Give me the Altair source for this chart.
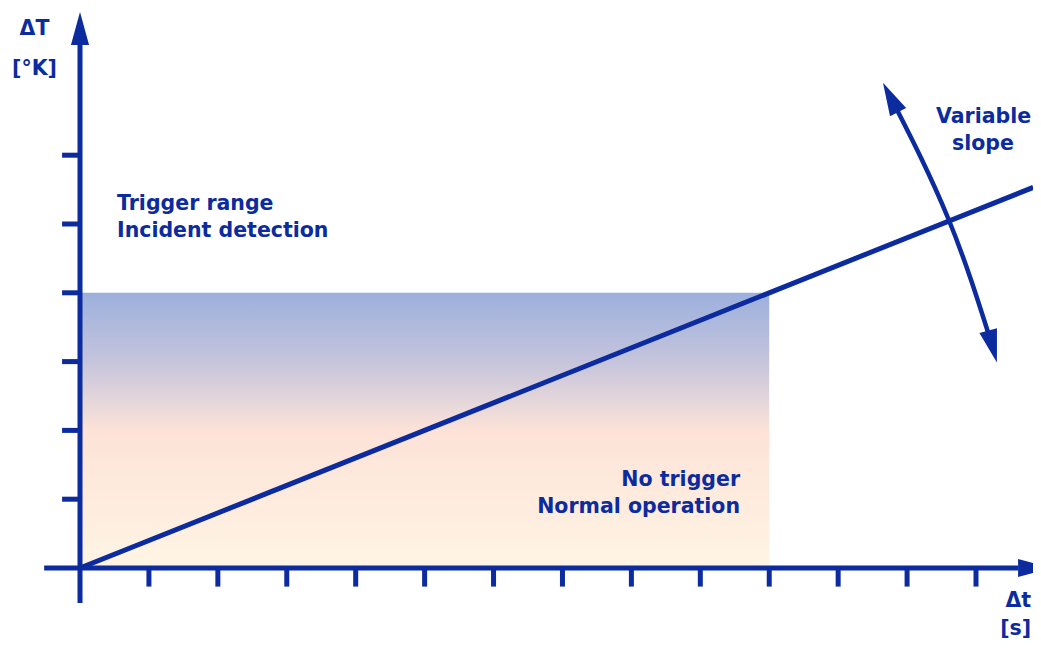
import altair as alt
import pandas as pd

BLUE = "#0b2b9e"
FONT = "DejaVu Sans"

# ---- data (in diagram units: one tick step = 1) ----
x_ticks = list(range(1, 14))
y_ticks = list(range(1, 7))

# axis extents
x_axis_start, x_axis_end = -0.52, 13.61
y_axis_start, y_axis_end = -0.51, 7.6
x_tick_len = -0.27
y_tick_len = -0.26

# shaded region (no-trigger zone)
zone_x = [0, 10]
zone_y = [0, 4]

# threshold line
slope_x = [0, 13.83]
slope_y = [0, 5.532]

# variable-slope curved arrow shaft
curve_x = [11.796, 12.203, 12.594, 12.928, 13.233]
curve_y = [6.773, 5.959, 5.087, 4.186, 3.241]

# arrowheads: x, y, angle
head_x = [0, 13.85, 11.76, 13.24]
head_y = [7.84, 0, 6.84, 3.22]
head_angle = [0, 90, 332.7, 164.7]

# labels
label_text = ["ΔT", "[°K]", "Δt", "[s]",
              "Trigger range", "Incident detection",
              "No trigger", "Normal operation",
              "Variable", "slope"]
label_x = [-0.66, -0.66, 13.80, 13.80, 0.537, 0.537, 9.576, 9.576, 13.80, 13.10]
label_y = [7.747, 7.166, -0.567, -0.974, 5.203, 4.811, 1.192, 0.799, 6.468, 6.076]
label_align = ["center", "center", "right", "right", "left", "left",
               "right", "right", "right", "center"]

# ---- scales ----
xs = alt.Scale(domain=[-1.0447, 13.827], nice=False, zero=False)
ys = alt.Scale(domain=[-1.0756, 8.1395], nice=False, zero=False)
X = lambda f: alt.X(f, type="quantitative", scale=xs, axis=None)
Y = lambda f: alt.Y(f, type="quantitative", scale=ys, axis=None)

# segments: axes + ticks
seg = []
seg.append(dict(x=x_axis_start, x2=x_axis_end, y=0, y2=0))
seg.append(dict(x=0, x2=0, y=y_axis_start, y2=y_axis_end))
for t in x_ticks:
    seg.append(dict(x=t, x2=t, y=0, y2=x_tick_len))
for t in y_ticks:
    seg.append(dict(x=0, x2=y_tick_len, y=t, y2=t))
seg_df = pd.DataFrame(seg)

zone = alt.Chart(pd.DataFrame({"x": [zone_x[0]], "x2": [zone_x[1]],
                               "y": [zone_y[0]], "y2": [zone_y[1]]})).mark_rect(
    fill=alt.Gradient(
        gradient="linear", x1=0, x2=0, y1=0, y2=1,
        stops=[alt.GradientStop(offset=0, color="#9cb0dc"),
               alt.GradientStop(offset=0.25, color="#c5c4dc"),
               alt.GradientStop(offset=0.4, color="#e6d7da"),
               alt.GradientStop(offset=0.5, color="#fde2d8"),
               alt.GradientStop(offset=1, color="#fff5e4")])
).encode(x=X("x"), x2="x2", y=Y("y"), y2="y2")

segs = alt.Chart(seg_df).mark_rule(color=BLUE, strokeWidth=5, strokeCap="butt").encode(
    x=X("x"), x2="x2", y=Y("y"), y2="y2")

slope = alt.Chart(pd.DataFrame({"x": slope_x, "y": slope_y})).mark_line(
    color=BLUE, strokeWidth=5).encode(x=X("x"), y=Y("y"))

curve = alt.Chart(pd.DataFrame({"x": curve_x, "y": curve_y,
                                "o": list(range(len(curve_x)))})).mark_line(
    color=BLUE, strokeWidth=4.5, interpolate="natural").encode(
    x=X("x"), y=Y("y"), order="o:Q")

heads = alt.Chart(pd.DataFrame({"x": head_x, "y": head_y, "a": head_angle})).mark_point(
    shape="M0,-1L0.55,1L-0.55,1Z", size=1089, filled=True, color=BLUE, opacity=1,
    strokeWidth=0).encode(x=X("x"), y=Y("y"),
                          angle=alt.Angle("a:Q", scale=None))

lab_df = pd.DataFrame({"t": label_text, "x": label_x, "y": label_y, "al": label_align})
texts = []
for al in ["left", "center", "right"]:
    texts.append(alt.Chart(lab_df[lab_df.al == al]).mark_text(
        align=al, baseline="alphabetic", font=FONT, fontSize=20.5, fontWeight="bold",
        color=BLUE).encode(x=X("x"), y=Y("y"), text="t:N"))

chart = alt.layer(zone, slope, segs, curve, heads, *texts).properties(
    width=1025, height=634, padding=0, autosize=alt.AutoSizeParams(type="none")
).configure_view(stroke=None)

chart.save("out.html", embed_options={"renderer": "svg", "actions": False})
